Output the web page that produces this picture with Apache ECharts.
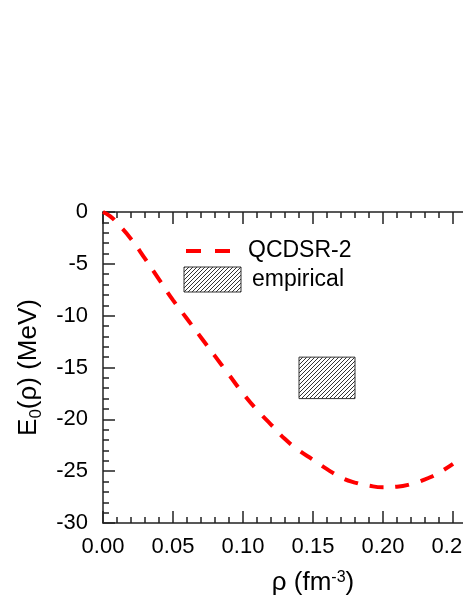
<!DOCTYPE html>
<html>
<head>
<meta charset="utf-8">
<script src="https://cdn.jsdelivr.net/npm/echarts@6/dist/echarts.min.js"></script>
<style>
  html, body { margin: 0; padding: 0; background: #fff; }
  #chart { width: 463px; height: 599px; }
</style>
</head>
<body>
<div id="chart"></div>
<script>
// QCDSR-2 curve
var rho = [0, 0.005, 0.01, 0.02, 0.03, 0.04, 0.05, 0.06, 0.07, 0.08, 0.09, 0.10, 0.11, 0.12, 0.13,
           0.14, 0.15, 0.16, 0.17, 0.18, 0.19, 0.20, 0.21, 0.22, 0.23, 0.24, 0.25];
var energy = [0, -0.4, -1.05, -2.6, -4.5, -6.5, -8.5, -10.3, -12.1, -13.9, -15.7, -17.5, -19.1, -20.5, -21.9,
              -23.0, -23.9, -24.8, -25.6, -26.1, -26.4, -26.55, -26.5, -26.25, -25.8, -25.15, -24.3];
// empirical saturation box: [rhoMin, rhoMax, eMin, eMax]
var empirical = [[0.14, 0.18, -18, -14]];
var xTicks = [0, 0.3, 0.05];
var yTicks = [-30, 0, 5];

// hatch pattern
var hatch = document.createElement('canvas');
hatch.width = 4; hatch.height = 4;
var hc = hatch.getContext('2d');
hc.fillStyle = '#fff';
hc.fillRect(0, 0, 4, 4);
hc.strokeStyle = '#333';
hc.lineWidth = 1;
hc.beginPath();
hc.moveTo(0, 4); hc.lineTo(4, 0);
hc.moveTo(-1, 1); hc.lineTo(1, -1);
hc.moveTo(3, 5); hc.lineTo(5, 3);
hc.stroke();
var hatchFill = { image: hatch, repeat: 'repeat' };

var axisCol = '#222';
var font = 'Liberation Sans, Arial, sans-serif';

var chart = echarts.init(document.getElementById('chart'));
function ticks() {
  return {
    axisLine: { onZero: false, lineStyle: { color: axisCol, width: 1.5 } },
    axisTick: { inside: true, length: 12, lineStyle: { color: axisCol, width: 1.5 } },
    minorTick: { show: true, splitNumber: 5, length: 6, lineStyle: { color: axisCol, width: 1.5 } },
    splitLine: { show: false }
  };
}

chart.setOption({
  animation: false,
  grid: { left: 103, top: 212, width: 420, height: 311, outerBoundsMode: 'none', containLabel: false },
  xAxis: [
    Object.assign({
      type: 'value', position: 'bottom', min: xTicks[0], max: xTicks[1], interval: xTicks[2],
      axisLabel: { fontSize: 22, fontFamily: font, color: '#000', margin: 13,
        formatter: function (v) { return v.toFixed(2); } },
      name: '{a|ρ (fm}{s|-3}{a|)}', nameLocation: 'middle', nameGap: 47,
      nameTextStyle: { rich: {
        a: { fontSize: 26, fontFamily: font, color: '#000' },
        s: { fontSize: 16, fontFamily: font, color: '#000', verticalAlign: 'top' }
      } }
    }, ticks()),
    Object.assign({
      type: 'value', position: 'top', min: xTicks[0], max: xTicks[1], interval: xTicks[2],
      axisLabel: { show: false }
    }, ticks())
  ],
  yAxis: [
    Object.assign({
      type: 'value', min: yTicks[0], max: yTicks[1], interval: yTicks[2],
      axisLabel: { fontSize: 22, fontFamily: font, color: '#000', margin: 15 },
      name: '{a|E}{b|0}{a|(ρ) (MeV)}', nameLocation: 'middle', nameRotate: 90, nameGap: 55,
      nameTextStyle: { rich: {
        a: { fontSize: 26, fontFamily: font, color: '#000' },
        b: { fontSize: 17, fontFamily: font, color: '#000', verticalAlign: 'top', padding: [15, 0, 0, 0] }
      } }
    }, ticks())
  ],
  series: [
    {
      name: 'empirical', type: 'custom',
      renderItem: function (params, api) {
        var p0 = api.coord([api.value(0), api.value(3)]);
        var p1 = api.coord([api.value(1), api.value(2)]);
        return {
          type: 'rect',
          shape: { x: p0[0], y: p0[1], width: p1[0] - p0[0], height: p1[1] - p0[1] },
          style: { fill: hatchFill, stroke: '#333', lineWidth: 1 }
        };
      },
      data: empirical
    },
    {
      name: 'QCDSR-2', type: 'line', smooth: true, symbol: 'none',
      lineStyle: { color: '#ff0000', width: 4, type: [14, 12], cap: 'butt' },
      data: rho.map(function (r, i) { return [r, energy[i]]; })
    }
  ],
  graphic: [
    { type: 'line', shape: { x1: 186, y1: 251, x2: 231, y2: 251 },
      style: { stroke: '#ff0000', lineWidth: 4, lineDash: [15, 14] } },
    { type: 'text', left: 248, top: 239,
      style: { text: 'QCDSR-2', fontSize: 23, fontFamily: font, fill: '#000' } },
    { type: 'rect', shape: { x: 184, y: 267, width: 57, height: 25 },
      style: { fill: hatchFill, stroke: '#333', lineWidth: 1 } },
    { type: 'text', left: 252, top: 268,
      style: { text: 'empirical', fontSize: 23, fontFamily: font, fill: '#000' } }
  ]
});
</script>
</body>
</html>
